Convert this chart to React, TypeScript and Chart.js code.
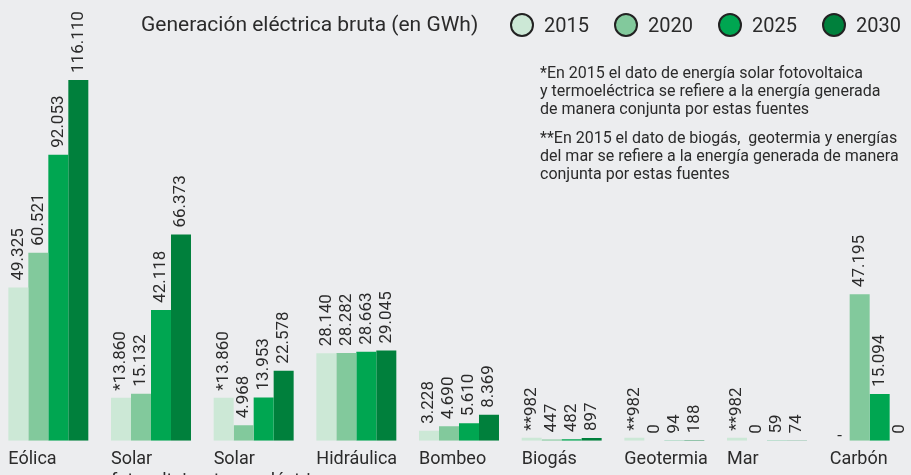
import React, { useEffect, useRef } from 'react';
import { Chart, registerables } from 'chart.js';

Chart.register(...registerables);

// ---------- data ----------
const categories: (string | string[])[] = [
  'Eólica',
  ['Solar', 'fotovoltaica'],
  ['Solar', 'termoeléctrica'],
  'Hidráulica',
  'Bombeo',
  'Biogás',
  'Geotermia',
  'Mar',
  'Carbón',
];
const seriesNames = ['2015', '2020', '2025', '2030'];
const values2015: (number | null)[] = [49325, 13860, 13860, 28140, 3228, 982, 982, 982, null];
const values2020: (number | null)[] = [60521, 15132, 4968, 28282, 4690, 447, 0, 0, 47195];
const values2025: (number | null)[] = [92053, 42118, 13953, 28663, 5610, 482, 94, 59, 15094];
const values2030: (number | null)[] = [116110, 66373, 22578, 29045, 8369, 897, 188, 74, 0];
const marks2015 = ['', '*', '*', '', '', '**', '**', '**', ''];
const titleText = 'Generación eléctrica bruta (en GWh)';
const note1 = [
  '*En 2015 el dato de energía solar fotovoltaica',
  'y termoeléctrica se refiere a la energía generada',
  'de manera conjunta por estas fuentes',
];
const note2 = [
  '**En 2015 el dato de biogás,  geotermia y energías',
  'del mar se refiere a la energía generada de manera',
  'conjunta por estas fuentes',
];

// ---------- styles ----------
const COLORS = ['#cce8d6', '#82c99c', '#00a651', '#00803c'];
const BG = '#ecedef';
const TEXT = '#2b2b2b';
const FONT = 'Roboto, "Noto Sans", sans-serif';

const fmt = (v: number) => String(v).replace(/\B(?=(\d{3})+(?!\d))/g, '.');

const valueLabels = {
  id: 'valueLabels',
  afterDatasetsDraw(chart: any) {
    const ctx = chart.ctx as CanvasRenderingContext2D;
    const yScale = chart.scales.y;
    chart.data.datasets.forEach((ds: any, di: number) => {
      const meta = chart.getDatasetMeta(di);
      meta.data.forEach((bar: any, i: number) => {
        const v = ds.data[i];
        ctx.save();
        ctx.fillStyle = TEXT;
        ctx.font = `17px ${FONT}`;
        if (v == null) {
          ctx.textAlign = 'center';
          ctx.textBaseline = 'alphabetic';
          ctx.fillText('-', bar.x, yScale.getPixelForValue(0));
        } else {
          const label = (di === 0 ? marks2015[i] : '') + fmt(v);
          ctx.translate(bar.x, bar.y - 7);
          ctx.rotate(-Math.PI / 2);
          ctx.textAlign = 'left';
          ctx.textBaseline = 'middle';
          ctx.fillText(label, 0, 0);
        }
        ctx.restore();
      });
    });
  },
};

export default function App() {
  const ref = useRef<HTMLCanvasElement>(null);
  useEffect(() => {
    const allSeries = [values2015, values2020, values2025, values2030];
    const chart = new Chart(ref.current!, {
      type: 'bar',
      data: {
        labels: categories,
        datasets: allSeries.map((d, k) => ({
          label: seriesNames[k],
          data: d,
          backgroundColor: COLORS[k],
          borderWidth: 0,
          barPercentage: 1,
          categoryPercentage: 0.779,
        })),
      },
      options: {
        responsive: false,
        animation: false,
        layout: { padding: 0 },
        plugins: { legend: { display: false }, tooltip: { enabled: false }, title: { display: false } },
        scales: {
          x: {
            grid: { display: false, drawTicks: false },
            border: { display: false },
            afterFit: (s: any) => {
              s.paddingLeft = 0;
              s.paddingRight = 0;
            },
            ticks: {
              align: 'start',
              labelOffset: -40,
              padding: 8,
              color: TEXT,
              font: { family: FONT, size: 18 },
              maxRotation: 0,
              autoSkip: false,
            },
          },
          y: { display: false, min: 0, max: 141840 },
        },
      },
      plugins: [valueLabels],
    });
    return () => chart.destroy();
  }, []);

  const noteStyle: React.CSSProperties = {
    position: 'absolute',
    left: 540,
    fontSize: 16,
    lineHeight: '18px',
    whiteSpace: 'pre',
    color: TEXT,
  };

  return (
    <div style={{ position: 'fixed', inset: 0, overflow: 'hidden', background: BG, fontFamily: FONT, color: TEXT }}>
      <canvas ref={ref} width={924} height={500} style={{ position: 'absolute', left: -3, top: 0, display: 'block' }} />
      <div style={{ position: 'absolute', left: 141, top: 10, height: 28, lineHeight: '28px', fontSize: 21 }}>
        {titleText}
      </div>
      <div style={{ position: 'absolute', left: 510, top: 12, height: 26, display: 'flex', alignItems: 'center', fontSize: 20 }}>
        {seriesNames.map((n, k) => (
          <span key={n} style={{ display: 'flex', alignItems: 'center', marginRight: 25 }}>
            <span
              style={{
                width: 20,
                height: 20,
                borderRadius: '50%',
                border: '2.5px solid #222',
                background: COLORS[k],
                marginRight: 10,
              }}
            />
            <span>{n}</span>
          </span>
        ))}
      </div>
      <div style={{ ...noteStyle, top: 64 }}>{note1.join('\n')}</div>
      <div style={{ ...noteStyle, top: 129 }}>{note2.join('\n')}</div>
    </div>
  );
}
